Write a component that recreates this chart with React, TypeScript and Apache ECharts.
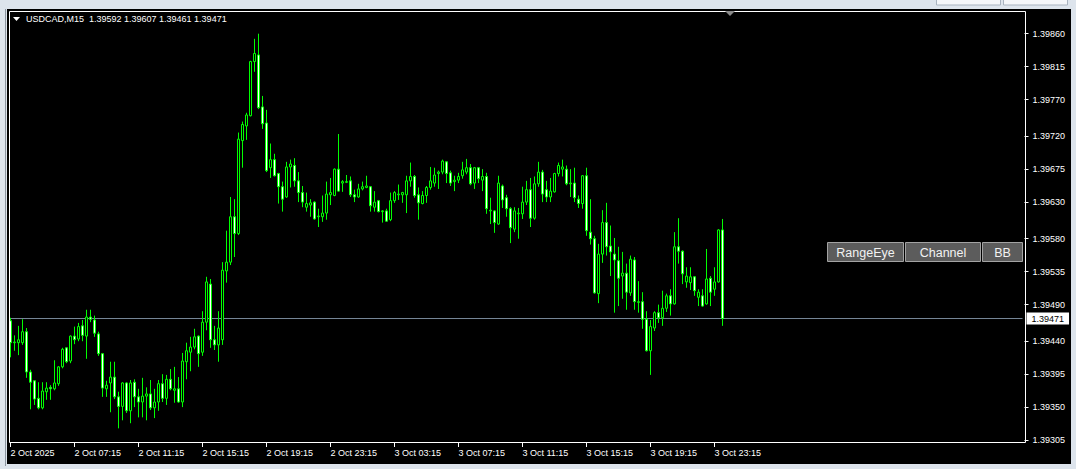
import React, { useEffect, useRef } from "react";
import * as echarts from "echarts";

const symbol = "USDCAD,M15";

const open = [1.39468,1.39438,1.39438,1.39438,1.39453,1.39398,1.39386,1.39362,1.39349,1.39371,1.39377,1.39375,1.39382,1.39405,1.39431,1.39413,1.39447,1.39443,1.39461,1.39447,1.39473,1.39469,1.39450,1.39423,1.39375,1.39383,1.39391,1.39364,1.39351,1.39383,1.39345,1.39384,1.39364,1.39357,1.39365,1.39368,1.39349,1.39357,1.39382,1.39362,1.39388,1.39373,1.39375,1.39357,1.39412,1.39425,1.39432,1.39447,1.39425,1.39466,1.39518,1.39442,1.39435,1.39442,1.39536,1.39548,1.39610,1.39587,1.39714,1.39734,1.39748,1.39822,1.39831,1.39760,1.39738,1.39677,1.39688,1.39669,1.39651,1.39637,1.39678,1.39680,1.39659,1.39643,1.39623,1.39626,1.39630,1.39610,1.39610,1.39615,1.39640,1.39639,1.39675,1.39656,1.39657,1.39659,1.39640,1.39637,1.39648,1.39650,1.39651,1.39623,1.39632,1.39617,1.39618,1.39606,1.39632,1.39640,1.39640,1.39640,1.39659,1.39665,1.39640,1.39628,1.39639,1.39650,1.39656,1.39669,1.39671,1.39685,1.39670,1.39658,1.39660,1.39666,1.39671,1.39677,1.39656,1.39677,1.39660,1.39665,1.39618,1.39618,1.39600,1.39652,1.39636,1.39621,1.39593,1.39614,1.39614,1.39630,1.39647,1.39608,1.39655,1.39671,1.39647,1.39637,1.39644,1.39669,1.39675,1.39675,1.39655,1.39656,1.39634,1.39628,1.39666,1.39589,1.39580,1.39505,1.39559,1.39602,1.39570,1.39559,1.39550,1.39529,1.39533,1.39506,1.39551,1.39493,1.39494,1.39470,1.39427,1.39458,1.39479,1.39472,1.39485,1.39502,1.39491,1.39569,1.39563,1.39521,1.39520,1.39528,1.39500,1.39502,1.39491,1.39526,1.39511,1.39521,1.39592];

const close = [1.39438,1.39439,1.39442,1.39453,1.39398,1.39384,1.39361,1.39349,1.39372,1.39376,1.39375,1.39383,1.39405,1.39429,1.39412,1.39447,1.39442,1.39460,1.39448,1.39473,1.39470,1.39451,1.39423,1.39376,1.39380,1.39391,1.39364,1.39351,1.39383,1.39345,1.39383,1.39364,1.39357,1.39365,1.39368,1.39349,1.39357,1.39382,1.39362,1.39388,1.39375,1.39375,1.39357,1.39413,1.39427,1.39432,1.39446,1.39423,1.39466,1.39521,1.39442,1.39435,1.39458,1.39537,1.39548,1.39610,1.39587,1.39716,1.39736,1.39749,1.39822,1.39833,1.39759,1.39737,1.39673,1.39688,1.39666,1.39651,1.39634,1.39678,1.39682,1.39659,1.39643,1.39630,1.39628,1.39629,1.39607,1.39611,1.39615,1.39641,1.39643,1.39675,1.39645,1.39658,1.39658,1.39640,1.39637,1.39648,1.39651,1.39652,1.39625,1.39630,1.39617,1.39618,1.39604,1.39632,1.39643,1.39641,1.39643,1.39659,1.39665,1.39639,1.39629,1.39639,1.39650,1.39659,1.39667,1.39671,1.39686,1.39669,1.39656,1.39660,1.39665,1.39674,1.39677,1.39655,1.39677,1.39662,1.39665,1.39621,1.39619,1.39602,1.39656,1.39633,1.39621,1.39595,1.39618,1.39615,1.39630,1.39647,1.39608,1.39655,1.39671,1.39641,1.39637,1.39645,1.39669,1.39680,1.39678,1.39655,1.39656,1.39636,1.39628,1.39666,1.39591,1.39580,1.39506,1.39559,1.39602,1.39569,1.39562,1.39551,1.39526,1.39533,1.39507,1.39552,1.39494,1.39494,1.39470,1.39427,1.39460,1.39479,1.39472,1.39485,1.39502,1.39491,1.39569,1.39563,1.39532,1.39529,1.39528,1.39509,1.39507,1.39488,1.39525,1.39507,1.39521,1.39592,1.39471];

const low = [1.39418,1.39427,1.39421,1.39435,1.39390,1.39347,1.39353,1.39347,1.39347,1.39360,1.39360,1.39373,1.39379,1.39403,1.39410,1.39410,1.39436,1.39440,1.39440,1.39416,1.39466,1.39446,1.39420,1.39364,1.39364,1.39343,1.39361,1.39321,1.39332,1.39342,1.39328,1.39350,1.39336,1.39336,1.39332,1.39346,1.39335,1.39345,1.39357,1.39353,1.39373,1.39356,1.39356,1.39350,1.39388,1.39399,1.39429,1.39405,1.39420,1.39455,1.39431,1.39428,1.39412,1.39435,1.39520,1.39544,1.39555,1.39585,1.39677,1.39715,1.39747,1.39808,1.39757,1.39730,1.39671,1.39663,1.39665,1.39628,1.39617,1.39636,1.39650,1.39651,1.39630,1.39623,1.39617,1.39610,1.39606,1.39596,1.39603,1.39606,1.39626,1.39638,1.39644,1.39644,1.39656,1.39637,1.39630,1.39636,1.39646,1.39649,1.39617,1.39617,1.39616,1.39602,1.39603,1.39604,1.39629,1.39633,1.39629,1.39615,1.39651,1.39636,1.39606,1.39627,1.39629,1.39647,1.39651,1.39648,1.39668,1.39656,1.39652,1.39645,1.39656,1.39662,1.39668,1.39653,1.39648,1.39656,1.39645,1.39614,1.39600,1.39588,1.39599,1.39622,1.39610,1.39574,1.39589,1.39580,1.39607,1.39626,1.39596,1.39606,1.39651,1.39630,1.39630,1.39630,1.39643,1.39665,1.39665,1.39653,1.39637,1.39630,1.39622,1.39621,1.39584,1.39572,1.39505,1.39492,1.39547,1.39557,1.39529,1.39479,1.39488,1.39498,1.39483,1.39502,1.39483,1.39479,1.39457,1.39426,1.39394,1.39454,1.39465,1.39461,1.39480,1.39475,1.39490,1.39546,1.39518,1.39513,1.39510,1.39502,1.39488,1.39487,1.39490,1.39488,1.39502,1.39520,1.39461];

const high = [1.39472,1.39448,1.39461,1.39470,1.39458,1.39401,1.39386,1.39384,1.39384,1.39384,1.39380,1.39414,1.39406,1.39431,1.39432,1.39448,1.39460,1.39465,1.39469,1.39483,1.39483,1.39475,1.39453,1.39424,1.39386,1.39412,1.39412,1.39371,1.39384,1.39384,1.39387,1.39388,1.39375,1.39390,1.39377,1.39387,1.39375,1.39387,1.39395,1.39394,1.39402,1.39405,1.39391,1.39424,1.39438,1.39446,1.39457,1.39448,1.39481,1.39528,1.39525,1.39461,1.39481,1.39548,1.39591,1.39637,1.39634,1.39725,1.39740,1.39752,1.39823,1.39853,1.39860,1.39775,1.39756,1.39710,1.39696,1.39670,1.39658,1.39685,1.39688,1.39690,1.39671,1.39652,1.39643,1.39634,1.39631,1.39621,1.39639,1.39658,1.39663,1.39676,1.39723,1.39660,1.39667,1.39665,1.39647,1.39655,1.39658,1.39666,1.39652,1.39645,1.39633,1.39619,1.39621,1.39643,1.39645,1.39654,1.39644,1.39666,1.39684,1.39667,1.39650,1.39645,1.39652,1.39678,1.39677,1.39673,1.39688,1.39686,1.39673,1.39666,1.39670,1.39685,1.39689,1.39682,1.39678,1.39678,1.39675,1.39670,1.39636,1.39619,1.39666,1.39654,1.39640,1.39623,1.39623,1.39622,1.39651,1.39659,1.39663,1.39665,1.39685,1.39674,1.39659,1.39663,1.39670,1.39684,1.39688,1.39680,1.39675,1.39677,1.39639,1.39667,1.39677,1.39634,1.39584,1.39573,1.39619,1.39629,1.39598,1.39581,1.39569,1.39562,1.39546,1.39557,1.39555,1.39522,1.39507,1.39481,1.39469,1.39481,1.39490,1.39509,1.39505,1.39511,1.39589,1.39608,1.39564,1.39541,1.39541,1.39529,1.39511,1.39511,1.39566,1.39529,1.39541,1.39593,1.39607];

const yTickLabels = [1.39860, 1.39815, 1.39770, 1.39720, 1.39675, 1.39630, 1.39580, 1.39535, 1.39490, 1.39440, 1.39395, 1.39350, 1.39305];

const xTickLabels = ["2 Oct 2025", "2 Oct 07:15", "2 Oct 11:15", "2 Oct 15:15", "2 Oct 19:15", "2 Oct 23:15", "3 Oct 03:15", "3 Oct 07:15", "3 Oct 11:15", "3 Oct 15:15", "3 Oct 19:15", "3 Oct 23:15"];

const buttons = ["RangeEye", "Channel", "BB"];

const TOTAL_SLOTS = 254;
const LABEL_EVERY = 16;
const FONT = '"Liberation Sans", Arial, sans-serif';

function slotTime(i: number): string {
  const m = 3 * 60 + 15 + 15 * i;
  const day = 2 + Math.floor(m / 1440);
  const mm = m % 1440;
  const h = Math.floor(mm / 60);
  const mi = mm % 60;
  return `${day} Oct ${String(h).padStart(2, "0")}:${String(mi).padStart(2, "0")}`;
}

export default function App() {
  const ref = useRef<HTMLDivElement>(null);

  useEffect(() => {
    document.body.style.margin = "0";
    const chart = echarts.init(ref.current!, null, { renderer: "svg" });
    const n = open.length;
    const categories = Array.from({ length: TOTAL_SLOTS }, (_, i) => slotTime(i));
    const data = open.map((o, i) => [o, close[i], low[i], high[i]]);
    const showTick = (i: number) => i % LABEL_EVERY === 0 && i < n;
    const last = n - 1;
    const bid = close[last];
    const title = `${symbol}  ${open[last].toFixed(5)} ${high[last].toFixed(5)} ${low[last].toFixed(5)} ${close[last].toFixed(5)}`;

    const chrome = "#dde4ec";
    const btnX = [827, 905, 982];
    const btnW = [76, 75, 40];

    const graphics: any[] = [
      { type: "rect", shape: { x: 0, y: 0, width: 1076, height: 9 }, style: { fill: chrome }, z: 100, silent: true },
      { type: "rect", shape: { x: 0, y: 464, width: 1076, height: 5 }, style: { fill: chrome }, z: 100, silent: true },
      { type: "rect", shape: { x: 0, y: 0, width: 7, height: 469 }, style: { fill: chrome }, z: 100, silent: true },
      { type: "rect", shape: { x: 1071, y: 0, width: 5, height: 469 }, style: { fill: chrome }, z: 100, silent: true },
      { type: "line", shape: { x1: 5.5, y1: 9, x2: 5.5, y2: 466 }, style: { stroke: "#8b949e", lineWidth: 1 }, z: 101, silent: true },
      { type: "rect", shape: { x: 936.5, y: -6, width: 64, height: 11 }, style: { fill: "#f4f6f9", stroke: "#a9b3bf", lineWidth: 1 }, z: 101, silent: true },
      { type: "rect", shape: { x: 1003.5, y: -6, width: 64, height: 11 }, style: { fill: "#f4f6f9", stroke: "#a9b3bf", lineWidth: 1 }, z: 101, silent: true },
      { type: "rect", shape: { x: 9.5, y: 11.5, width: 1016, height: 431 }, style: { fill: "none", stroke: "#ffffff", lineWidth: 1 }, z: 100, silent: true },
      { type: "polygon", shape: { points: [[13, 17], [20, 17], [16.5, 21]] }, style: { fill: "#ffffff" }, z: 100, silent: true },
      { type: "text", x: 26, y: 19, style: { text: title, fill: "#ffffff", fontSize: 9, fontFamily: FONT, verticalAlign: "middle", align: "left" }, z: 100, silent: true },
      { type: "polygon", shape: { points: [[725, 11], [735, 11], [730, 16]] }, style: { fill: "#8a8a8a" }, z: 100, silent: true },
    ];
    buttons.forEach((b, k) => {
      graphics.push({ type: "rect", shape: { x: btnX[k] + 0.5, y: 242.5, width: btnW[k], height: 19 }, style: { fill: "#5c5c5c", stroke: "#a3a3a3", lineWidth: 1 }, z: 100, silent: true });
      graphics.push({ type: "text", x: btnX[k] + btnW[k] / 2 + 0.5, y: 252.5, style: { text: b, fill: "#f2f2f2", fontSize: 12.5, fontFamily: FONT, align: "center", verticalAlign: "middle" }, z: 101, silent: true });
    });

    chart.setOption({
      animation: false,
      backgroundColor: "#000000",
      grid: { left: 8.5, top: 11, width: 1016, height: 432, containLabel: false },
      xAxis: {
        type: "category",
        data: categories,
        boundaryGap: true,
        axisLine: { show: false },
        axisTick: { show: true, alignWithLabel: true, interval: (i: number) => showTick(i), length: 4, lineStyle: { color: "#ffffff" } },
        axisLabel: {
          show: true,
          interval: (i: number) => showTick(i),
          formatter: (_v: string, i: number) => xTickLabels[i / LABEL_EVERY] ?? "",
          color: "#ffffff",
          fontSize: 9,
          fontFamily: FONT,
          align: "left",
          margin: 5,
          hideOverlap: false,
        },
        splitLine: { show: false },
      },
      yAxis: {
        type: "value",
        position: "right",
        scale: true,
        min: 1.39301,
        max: 1.39891,
        axisLine: { show: false },
        splitLine: { show: false },
        axisTick: { show: true, customValues: yTickLabels, length: 4, lineStyle: { color: "#ffffff" } },
        axisLabel: {
          show: true,
          customValues: yTickLabels,
          formatter: (v: number) => v.toFixed(5),
          color: "#ffffff",
          fontSize: 9,
          fontFamily: FONT,
          margin: 8,
        },
      },
      graphic: { elements: graphics },
      series: [
        {
          type: "line",
          z: 1,
          silent: true,
          showSymbol: false,
          symbol: "none",
          data: [[0, bid], [TOTAL_SLOTS - 1, bid]],
          lineStyle: { color: "#778899", type: "solid", width: 1 },
          endLabel: {
            show: true,
            distance: 4,
            formatter: () => bid.toFixed(5),
            backgroundColor: "#ffffff",
            color: "#000000",
            fontSize: 9,
            fontFamily: FONT,
            padding: [2, 5, 1, 5],
          },
        },
        {
          type: "candlestick",
          z: 2,
          data,
          barWidth: 2,
          itemStyle: {
            color: "#000000",
            color0: "#ffffff",
            borderColor: "#00ff00",
            borderColor0: "#00ff00",
            borderWidth: 1,
          },
        },
      ],
    });
    return () => chart.dispose();
  }, []);

  return <div ref={ref} style={{ position: "fixed", left: 0, top: 0, width: 1076, height: 469 }} />;
}
